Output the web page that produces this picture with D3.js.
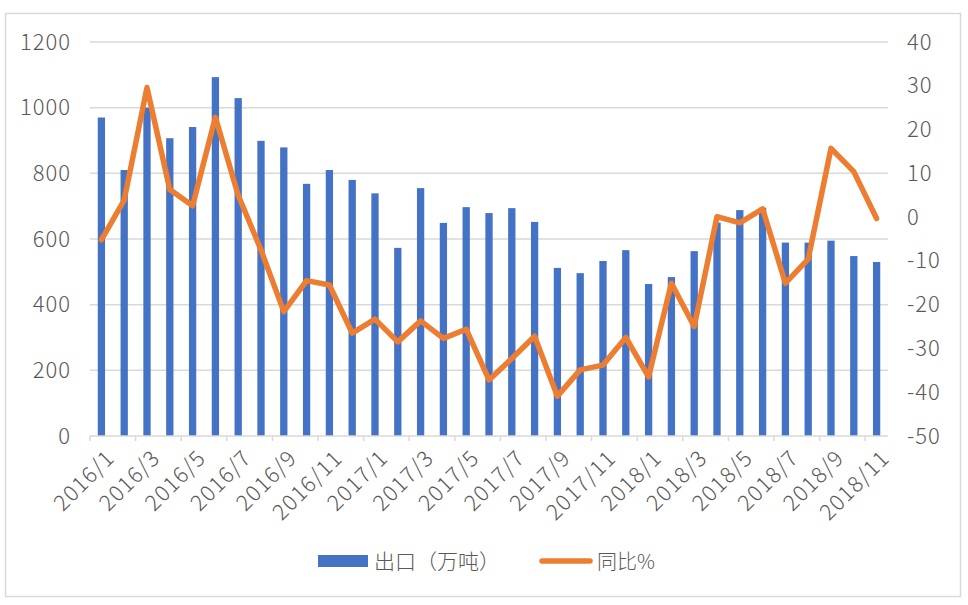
<!DOCTYPE html>
<html>
<head>
<meta charset="utf-8">
<script src="https://cdn.jsdelivr.net/npm/d3@7"></script>
<style>
  body { margin: 0; background: #fff; }
  text { font-family: "Noto Sans CJK SC", "Open Sans", sans-serif; font-weight: 300; fill: #595959; }
</style>
</head>
<body>
<svg id="chart"></svg>
<script>
// months 2016/1 .. 2018/11
const months = [
  '2016/1','2016/2','2016/3','2016/4','2016/5','2016/6','2016/7','2016/8','2016/9','2016/10','2016/11','2016/12',
  '2017/1','2017/2','2017/3','2017/4','2017/5','2017/6','2017/7','2017/8','2017/9','2017/10','2017/11','2017/12',
  '2018/1','2018/2','2018/3','2018/4','2018/5','2018/6','2018/7','2018/8','2018/9','2018/10','2018/11'
];

// 出口（万吨）
const exportVol = [
  970, 810, 1000, 907, 941, 1093, 1029, 899, 879, 768, 810, 780,
  739, 573, 755, 649, 697, 679, 694, 652, 512, 496, 533, 566,
  463, 484, 563, 650, 688, 695, 589, 589, 595, 548, 530
];

// 同比%
const yoy = [
  -5.2, 3.9, 29.6, 6.3, 2.6, 22.8, 5.0, -7.5, -21.6, -14.5, -15.5, -26.5,
  -23.3, -28.5, -23.7, -27.7, -25.6, -37.2, -32.3, -27.2, -40.9, -34.9, -33.8, -27.5,
  -36.5, -15.1, -25.0, 0.1, -1.3, 1.9, -15.1, -9.6, 15.7, 10.4, -0.3
];

const leftTicks = [0, 200, 400, 600, 800, 1000, 1200];
const rightTicks = [-50, -40, -30, -20, -10, 0, 10, 20, 30, 40];

const W = 968, H = 605;
const plot = { left: 90, right: 888, top: 42, bottom: 436 };

const svg = d3.select('#chart')
  .attr('width', W)
  .attr('height', H);

// outer frame
svg.append('rect')
  .attr('x', 5.5).attr('y', 13.5)
  .attr('width', 955).attr('height', 583)
  .attr('fill', 'none')
  .attr('stroke', '#d9d9d9')
  .attr('stroke-width', 1.5);

let x = d3.scaleBand()
  .domain(months)
  .range([plot.left, plot.right])
  .paddingInner(0.68)
  .paddingOuter(0.34);

let yLeft = d3.scaleLinear()
  .domain([0, 1200])
  .range([plot.bottom, plot.top]);

let yRight = d3.scaleLinear()
  .domain([-50, 40])
  .range([plot.bottom, plot.top]);

// gridlines
svg.append('g')
  .selectAll('line')
  .data(leftTicks.slice(1))
  .enter()
  .append('line')
  .attr('x1', plot.left)
  .attr('x2', plot.right)
  .attr('y1', (d) => yLeft(d))
  .attr('y2', (d) => yLeft(d))
  .attr('stroke', '#d9d9d9')
  .attr('stroke-width', 1.5);

// bars
svg.append('g')
  .selectAll('rect')
  .data(exportVol)
  .enter()
  .append('rect')
  .attr('x', (d, i) => x(months[i]))
  .attr('y', (d) => yLeft(d))
  .attr('width', x.bandwidth())
  .attr('height', (d) => yLeft(0) - yLeft(d))
  .attr('fill', '#4472C4');

// x axis line + ticks every 2 categories
const step = x.step();
svg.append('line')
  .attr('x1', plot.left).attr('x2', plot.right)
  .attr('y1', plot.bottom).attr('y2', plot.bottom)
  .attr('stroke', '#d9d9d9')
  .attr('stroke-width', 1.5);

svg.append('g')
  .selectAll('line')
  .data(d3.range(0, months.length + 1, 2))
  .enter()
  .append('line')
  .attr('x1', (d) => plot.left + d * step)
  .attr('x2', (d) => plot.left + d * step)
  .attr('y1', plot.bottom)
  .attr('y2', plot.bottom + 5)
  .attr('stroke', '#d9d9d9')
  .attr('stroke-width', 1.5);

// x labels, every other month, rotated
svg.append('g')
  .selectAll('text')
  .data(months.filter((d, i) => i % 2 === 0))
  .enter()
  .append('text')
  .attr('transform', (d) => `translate(${x(d) + x.bandwidth() / 2 + 9}, ${plot.bottom + 18}) rotate(-45)`)
  .attr('text-anchor', 'end')
  .attr('dy', '0.35em')
  .attr('font-size', '22px')
  .attr('letter-spacing', '1.2px')
  .text((d) => d);

// left axis labels
let leftAxis = d3.axisLeft(yLeft)
  .tickValues(leftTicks)
  .tickSize(0)
  .tickPadding(19)
  .tickFormat(d3.format('d'));

let leftGroup = svg.append('g')
  .attr('transform', `translate(${plot.left}, 0)`)
  .call(leftAxis);
leftGroup.select('.domain').remove();
leftGroup.selectAll('text')
  .attr('font-size', '22px')
  .attr('letter-spacing', '1px')
  .attr('font-family', null)
  .attr('fill', null);

// right axis labels
let rightAxis = d3.axisRight(yRight)
  .tickValues(rightTicks)
  .tickSize(0)
  .tickPadding(19)
  .tickFormat((d) => d < 0 ? '-' + Math.abs(d) : d);

let rightGroup = svg.append('g')
  .attr('transform', `translate(${plot.right}, 0)`)
  .call(rightAxis);
rightGroup.select('.domain').remove();
rightGroup.selectAll('text')
  .attr('font-size', '22px')
  .attr('letter-spacing', '1px')
  .attr('font-family', null)
  .attr('fill', null);

// yoy line
let line = d3.line()
  .x((d, i) => x(months[i]) + x.bandwidth() / 2)
  .y((d) => yRight(d));

svg.append('path')
  .datum(yoy)
  .attr('d', line)
  .attr('fill', 'none')
  .attr('stroke', '#ED7D31')
  .attr('stroke-width', 5.5)
  .attr('stroke-linejoin', 'round')
  .attr('stroke-linecap', 'round');

// legend
let legend = svg.append('g');
legend.append('rect')
  .attr('x', 318).attr('y', 555)
  .attr('width', 50).attr('height', 12)
  .attr('fill', '#4472C4');
legend.append('text')
  .attr('x', 374).attr('y', 569)
  .attr('font-size', '21px')
  .text('出口（万吨）');
legend.append('line')
  .attr('x1', 542).attr('x2', 590)
  .attr('y1', 561).attr('y2', 561)
  .attr('stroke', '#ED7D31')
  .attr('stroke-width', 5.5)
  .attr('stroke-linecap', 'round');
legend.append('text')
  .attr('x', 597).attr('y', 569)
  .attr('font-size', '20px')
  .text('同比%');
</script>
</body>
</html>
